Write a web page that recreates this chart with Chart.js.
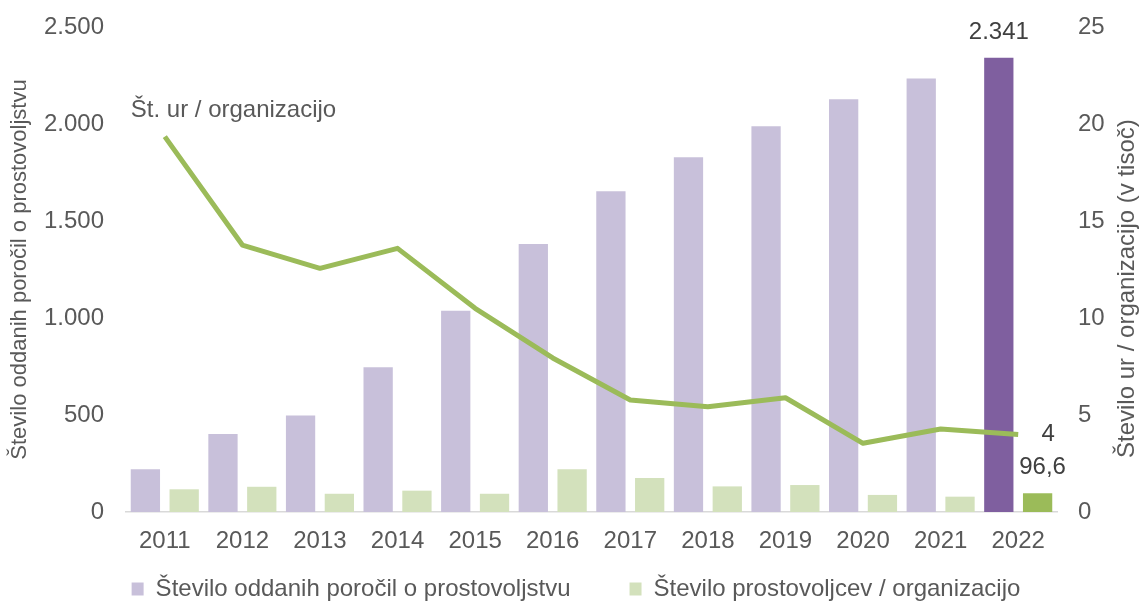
<!DOCTYPE html>
<html>
<head>
<meta charset="utf-8">
<script src="https://cdn.jsdelivr.net/npm/chart.js@4/dist/chart.umd.min.js"></script>
<style>
  html, body { margin: 0; padding: 0; background: #fff; }
</style>
</head>
<body>
<canvas id="chart" width="1141" height="605"></canvas>
<script>
// values
const years = ['2011', '2012', '2013', '2014', '2015', '2016', '2017', '2018', '2019', '2020', '2021', '2022'];
const reports = [220, 402, 498, 746, 1038, 1381, 1653, 1828, 1988, 2127, 2235, 2341];
const volunteersPerOrg = [117, 130, 94, 110, 94, 220, 175, 132, 139, 88, 79, 96.6];
const hoursPerOrg = [19.35, 13.76, 12.56, 13.59, 10.5, 7.94, 5.77, 5.43, 5.89, 3.54, 4.28, 4.0];

const leftTicks = [0, 500, 1000, 1500, 2000, 2500];
const rightTicks = [0, 5, 10, 15, 20, 25];

const reportsLabel = 'Število oddanih poročil o prostovoljstvu';
const volunteersLabel = 'Število prostovoljcev / organizacijo';
const hoursLabel = 'Št. ur / organizacijo';
const rightTitle = 'Število ur / organizacijo (v tisoč)';

const FONT = "'Liberation Sans', Arial, sans-serif";
const GREY = '#595959';
const last = years.length - 1;

function thousands(v) {
    return String(v).replace(/\B(?=(\d{3})+(?!\d))/g, '.');
}

// text annotations: value labels, the line name and both axis titles
const annotations = {
    id: 'annotations',
    afterDatasetsDraw(chart) {
        const ctx = chart.ctx;
        const area = chart.chartArea;
        ctx.save();
        ctx.font = '24px ' + FONT;
        ctx.fillStyle = '#404040';
        ctx.textBaseline = 'middle';
        ctx.textAlign = 'center';

        const pts = chart.getDatasetMeta(0).data;
        const purple = chart.getDatasetMeta(1).data[last];
        const green = chart.getDatasetMeta(2).data[last];

        ctx.fillText(thousands(reports[last]), purple.x, purple.y - 25);
        ctx.fillText(String(volunteersPerOrg[last]).replace('.', ','), green.x + 5, green.y - 26);
        ctx.fillText(String(hoursPerOrg[last]), pts[last].x + 30, pts[last].y);

        ctx.fillStyle = GREY;
        ctx.textAlign = 'left';
        ctx.fillText(hoursLabel, pts[0].x - 34, pts[0].y - 26);

        // axis titles, both read bottom to top
        ctx.save();
        ctx.font = '22px ' + FONT;
        ctx.textAlign = 'center';
        ctx.translate(20, (area.top + area.bottom) / 2);
        ctx.rotate(-Math.PI / 2);
        ctx.fillText(reportsLabel, 0, 0);
        ctx.restore();

        ctx.font = '24px ' + FONT;
        ctx.textAlign = 'left';
        ctx.translate(1127, 458);
        ctx.rotate(-Math.PI / 2);
        ctx.fillText(rightTitle, 0, 0);
        ctx.restore();
    }
};

// small line height on the value axes so their labels don't push the plot down
const tickFont = { family: FONT, size: 24, lineHeight: 0.4 };

new Chart(document.getElementById('chart'), {
    data: {
        labels: years,
        datasets: [
            {
                type: 'line',
                label: hoursLabel,
                data: hoursPerOrg,
                yAxisID: 'y1',
                borderColor: '#9BBB59',
                borderWidth: 5,
                pointRadius: 0,
                tension: 0,
                borderJoinStyle: 'round',
                order: 0
            },
            {
                type: 'bar',
                label: reportsLabel,
                data: reports,
                yAxisID: 'y',
                backgroundColor: (c) => c.dataIndex === last ? '#7F5F9F' : '#C8C0DA',
                categoryPercentage: 1,
                barPercentage: 0.755,
                order: 1
            },
            {
                type: 'bar',
                label: volunteersLabel,
                data: volunteersPerOrg,
                yAxisID: 'y',
                backgroundColor: (c) => c.dataIndex === last ? '#9BBB59' : '#D3E1BC',
                categoryPercentage: 1,
                barPercentage: 0.755,
                order: 1
            }
        ]
    },
    options: {
        responsive: false,
        animation: false,
        layout: { padding: { top: 27, left: 11, right: 0, bottom: 0 } },
        plugins: {
            tooltip: { enabled: false },
            legend: {
                position: 'bottom',
                maxHeight: 47,
                labels: {
                    // keep the bar series only, and widen the gap after the first entry
                    generateLabels(chart) {
                        const items = Chart.defaults.plugins.legend.labels.generateLabels(chart)
                            .filter((item) => item.text !== hoursLabel);
                        items[0].text += '      ';
                        return items;
                    },
                    boxWidth: 12,
                    boxHeight: 13,
                    padding: 19,
                    color: GREY,
                    font: { family: FONT, size: 24 }
                }
            }
        },
        scales: {
            x: {
                grid: { display: false, drawTicks: false },
                border: { display: true, color: '#D9D9D9', width: 1.5 },
                ticks: { color: GREY, padding: 15, font: { family: FONT, size: 24 }, maxRotation: 0, autoSkip: false },
                afterFit: (s) => { s.height = 46; }
            },
            y: {
                position: 'left',
                min: 0,
                max: 2500,
                grid: { display: false, drawTicks: false },
                border: { display: false },
                ticks: {
                    stepSize: 500,
                    padding: 22,
                    color: GREY,
                    font: tickFont,
                    callback: (v) => leftTicks.includes(v) ? thousands(v) : ''
                },
                afterFit: (s) => { s.width = 115; }
            },
            y1: {
                position: 'right',
                min: 0,
                max: 25,
                grid: { display: false, drawTicks: false },
                border: { display: false },
                ticks: {
                    stepSize: 5,
                    padding: 21,
                    color: GREY,
                    font: tickFont,
                    callback: (v) => rightTicks.includes(v) ? String(v) : ''
                },
                afterFit: (s) => { s.width = 84; }
            }
        }
    },
    plugins: [annotations]
});
</script>
</body>
</html>
